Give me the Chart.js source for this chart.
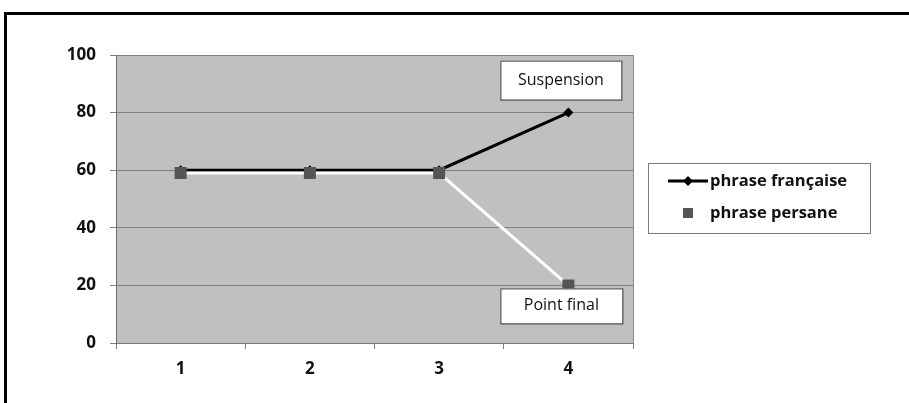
<!DOCTYPE html>
<html>
<head>
<meta charset="utf-8">
<script src="https://cdn.jsdelivr.net/npm/chart.js@4"></script>
<style>
html,body{margin:0;padding:0;background:#fff;}
#wrap{position:relative;width:909px;height:403px;}
</style>
</head>
<body>
<div id="wrap"><canvas id="c" width="909" height="403"></canvas></div>
<script>
const categories = ['1', '2', '3', '4'];
const frenchValues = [60, 60, 60, 80];
const persianValues = [59, 59, 59, 20];
const frenchLabel = 'phrase française';
const persianLabel = 'phrase persane';
const yTicks = [0, 20, 40, 60, 80, 100];
const noteTop = 'Suspension';
const noteBottom = 'Point final';

const FONT = '"Open Sans", "Noto Sans", sans-serif';

const decor = {
  id: 'decor',
  beforeDraw(chart) {
    const {ctx, chartArea: a} = chart;
    ctx.save();
    ctx.fillStyle = '#c0c0c0';
    ctx.fillRect(a.left, a.top, a.right - a.left, a.bottom - a.top);
    ctx.restore();
  },
  afterDraw(chart) {
    const {ctx, chartArea: a} = chart;
    const xs = chart.scales.x, ys = chart.scales.y;
    ctx.save();
    // right border of plot
    ctx.strokeStyle = '#8c8c8c';
    ctx.lineWidth = 1;
    ctx.beginPath();
    ctx.moveTo(Math.round(a.right) + 0.5, a.top);
    ctx.lineTo(Math.round(a.right) + 0.5, a.bottom);
    ctx.stroke();
    // outer frame
    ctx.strokeStyle = '#000';
    ctx.lineWidth = 3;
    ctx.beginPath();
    ctx.moveTo(5.5, 403);
    ctx.lineTo(5.5, 13.5);
    ctx.lineTo(909, 13.5);
    ctx.stroke();

    // annotation boxes
    function note(text, x, y, w, h) {
      ctx.fillStyle = '#fff';
      ctx.fillRect(x, y, w, h);
      ctx.strokeStyle = '#3a3a3a';
      ctx.lineWidth = 1;
      ctx.strokeRect(x + 0.5, y + 0.5, w, h);
      ctx.fillStyle = '#111';
      ctx.font = '16px ' + FONT;
      ctx.textAlign = 'center';
      ctx.textBaseline = 'middle';
      ctx.fillText(text, x + w / 2, y + h / 2);
    }
    const px = xs.getPixelForValue(3);
    note(noteTop, px - 68, ys.getPixelForValue(80) - 52, 121, 39);
    note(noteBottom, px - 68, ys.getPixelForValue(20) + 3, 122, 35);

    // legend
    const lx = 648, ly = 163, lw = 222, lh = 70;
    ctx.fillStyle = '#fff';
    ctx.fillRect(lx, ly, lw, lh);
    ctx.strokeStyle = '#7a7a7a';
    ctx.lineWidth = 1;
    ctx.strokeRect(lx + 0.5, ly + 0.5, lw, lh);
    const r1 = ly + 18, r2 = ly + 50;
    ctx.strokeStyle = '#000';
    ctx.lineWidth = 3;
    ctx.beginPath();
    ctx.moveTo(668, r1); ctx.lineTo(708, r1); ctx.stroke();
    ctx.fillStyle = '#000';
    ctx.beginPath();
    ctx.moveTo(688, r1 - 5); ctx.lineTo(693, r1); ctx.lineTo(688, r1 + 5); ctx.lineTo(683, r1);
    ctx.closePath(); ctx.fill();
    ctx.fillStyle = '#555';
    ctx.fillRect(683, r2 - 5, 10, 10);
    ctx.fillStyle = '#111';
    ctx.font = 'bold 16.5px ' + FONT;
    ctx.textAlign = 'left';
    ctx.textBaseline = 'middle';
    ctx.fillText(frenchLabel, 710, r1);
    ctx.fillText(persianLabel, 710, r2);
    ctx.restore();
  }
};

new Chart(document.getElementById('c'), {
  type: 'line',
  data: {
    labels: categories,
    datasets: [
      {
        label: persianLabel,
        data: persianValues,
        borderColor: '#ffffff',
        borderWidth: 3,
        pointStyle: 'rect',
        pointRadius: 8.5,
        pointBackgroundColor: '#555555',
        pointBorderColor: '#555555',
        pointBorderWidth: 0,
        tension: 0,
        order: 0
      },
      {
        label: frenchLabel,
        data: frenchValues,
        borderColor: '#000000',
        borderWidth: 3,
        pointStyle: 'rectRot',
        pointRadius: 5,
        pointBackgroundColor: '#000000',
        pointBorderColor: '#000000',
        pointBorderWidth: 0,
        tension: 0,
        order: 1
      }
    ]
  },
  options: {
    responsive: false,
    animation: false,
    devicePixelRatio: 1,
    layout: {padding: {left: 0, right: 276, top: 55, bottom: 0}},
    plugins: {legend: {display: false}, tooltip: {enabled: false}},
    scales: {
      x: {
        offset: true,
        grid: {offset: true, drawOnChartArea: false, drawTicks: true, tickLength: 6, color: '#7a7a7a'},
        border: {display: true, color: '#7a7a7a', width: 1},
        ticks: {color: '#111', font: {family: FONT, size: 17, weight: 'bold'}, padding: 10},
        afterFit(s) { s.height = 60; }
      },
      y: {
        min: 0, max: 100,
        afterBuildTicks(s) { s.ticks = yTicks.map(v => ({value: v})); },
        grid: {color: '#808080', tickLength: 6, drawTicks: true},
        border: {display: true, color: '#6a6a6a', width: 1},
        ticks: {color: '#111', font: {family: FONT, size: 17, weight: 'bold'}, padding: 14},
        afterFit(s) { s.width = 116; }
      }
    }
  },
  plugins: [decor]
});
</script>
</body>
</html>
